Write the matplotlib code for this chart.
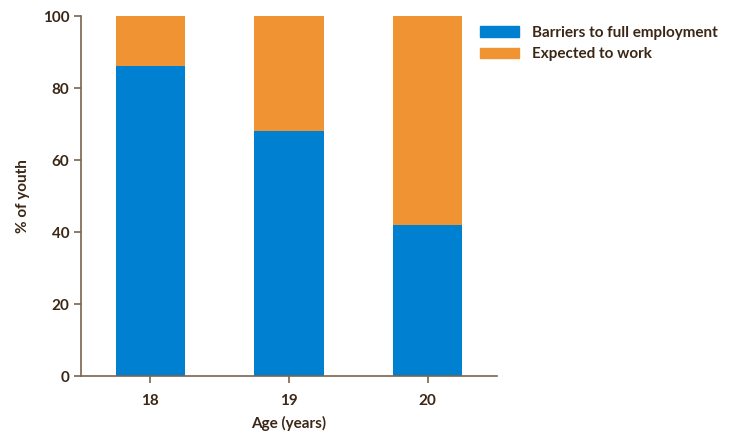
import matplotlib.pyplot as plt
from matplotlib.patches import Patch

ages = ['18', '19', '20']
barriers = [86, 68, 42]
expected = [14, 32, 58]

blue = '#0080D0'
orange = '#F09433'
text_col = '#3B2716'
spine_col = '#7A6550'

plt.rcParams['font.family'] = ['Lato', 'DejaVu Sans']
plt.rcParams['font.weight'] = 'bold'

fig = plt.figure(figsize=(7.31, 4.37), dpi=100)
ax = fig.add_axes([81 / 731, 1 - 376 / 437, (497 - 81) / 731, (376 - 16) / 437])

x = range(len(ages))
ax.bar(x, barriers, width=0.5, color=blue)
ax.bar(x, expected, width=0.5, bottom=barriers, color=orange)

ax.set_xlim(-0.5, 2.5)
ax.set_ylim(0, 100)
ax.set_xticks(list(x))
ax.set_xticklabels(ages)
ax.set_yticks([0, 20, 40, 60, 80, 100])

for s in ['top', 'right']:
    ax.spines[s].set_visible(False)
for s in ['left', 'bottom']:
    ax.spines[s].set_color(spine_col)
    ax.spines[s].set_linewidth(1.2)

ax.tick_params(axis='both', colors=spine_col, labelcolor=text_col, labelsize=11, length=5, width=1.2)
ax.tick_params(axis='x', pad=8)
for lbl in ax.get_xticklabels() + ax.get_yticklabels():
    lbl.set_fontweight('bold')

ax.set_xlabel('Age (years)', fontsize=11, fontweight='bold', color=text_col, labelpad=6)
ax.set_ylabel('% of youth', fontsize=11, fontweight='bold', color=text_col, labelpad=9)

handles = [Patch(color=blue), Patch(color=orange)]
fig.legend(handles, ['Barriers to full employment', 'Expected to work'],
           loc='upper left', bbox_to_anchor=(466 / 731, 1 - 12 / 437),
           frameon=False, handlelength=2.6, handleheight=0.7, handletextpad=0.8,
           labelspacing=0.5, prop={'size': 11, 'weight': 'bold'}, labelcolor=text_col)

fig.savefig('out.png', dpi=100)
